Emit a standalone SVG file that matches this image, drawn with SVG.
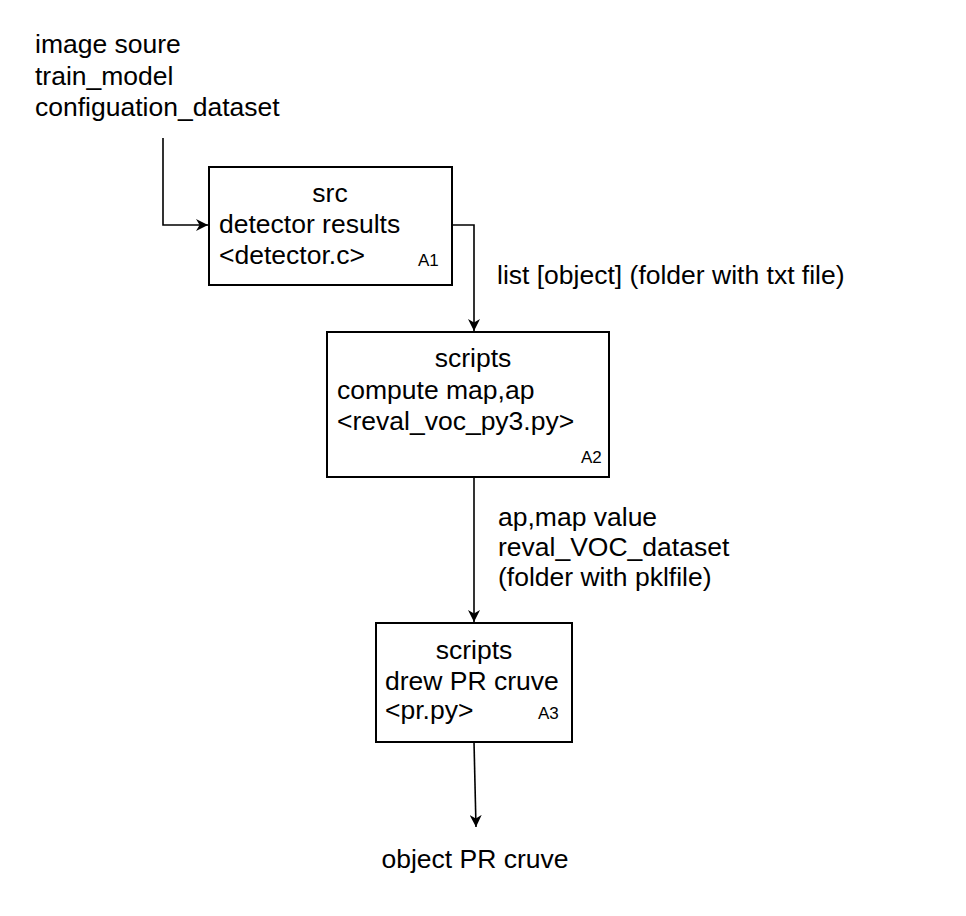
<svg xmlns="http://www.w3.org/2000/svg" width="966" height="916" viewBox="0 0 966 916">
<style>
text{font-family:"Liberation Sans",Arial,sans-serif;font-size:26.5px;fill:#000}
.s{font-size:17px}
.c{text-anchor:middle}
.box{fill:#fff;stroke:#000;stroke-width:2}
.ln{fill:none;stroke:#000;stroke-width:1.6}
</style>
<defs>
<marker id="ah" markerWidth="12" markerHeight="12" refX="10" refY="5" orient="auto" markerUnits="userSpaceOnUse" viewBox="0 0 10 10">
<path d="M0,0 L10,5 L0,10 L3,5 Z" fill="#000"/>
</marker>
</defs>
<rect width="966" height="916" fill="#fff"/>
<g id="inputs">
<text x="35" y="53">image soure</text>
<text x="35" y="84.5">train_model</text>
<text x="35" y="116">configuation_dataset</text>
</g>
<g id="connectors">
<path class="ln" d="M163,138 V225 H208" marker-end="url(#ah)"/>
<path class="ln" d="M452,225 H474 V331" marker-end="url(#ah)"/>
<path class="ln" d="M474,477 V622" marker-end="url(#ah)"/>
<path class="ln" d="M474,742 L476,827" marker-end="url(#ah)"/>
<text x="497" y="284">list [object] (folder with txt file)</text>
<text x="498" y="526">ap,map value</text>
<text x="498" y="556">reval_VOC_dataset</text>
<text x="498" y="586">(folder with pklfile)</text>
</g>
<g id="A1">
<rect class="box" x="209" y="167" width="243" height="118"/>
<text class="c" x="330" y="202">src</text>
<text x="219" y="233">detector results</text>
<text x="219" y="264">&lt;detector.c&gt;</text>
<text class="s" x="418" y="266">A1</text>
</g>
<g id="A2">
<rect class="box" x="327" y="332" width="282" height="145"/>
<text class="c" x="473" y="367">scripts</text>
<text x="337" y="399">compute map,ap</text>
<text x="337" y="430">&lt;reval_voc_py3.py&gt;</text>
<text class="s" x="581" y="463">A2</text>
</g>
<g id="A3">
<rect class="box" x="376" y="623" width="196" height="119"/>
<text class="c" x="474" y="659">scripts</text>
<text x="385" y="690">drew PR cruve</text>
<text x="385" y="719">&lt;pr.py&gt;</text>
<text class="s" x="538" y="719">A3</text>
</g>
<g id="output">
<text class="c" x="475" y="868">object PR cruve</text>
</g>
</svg>
